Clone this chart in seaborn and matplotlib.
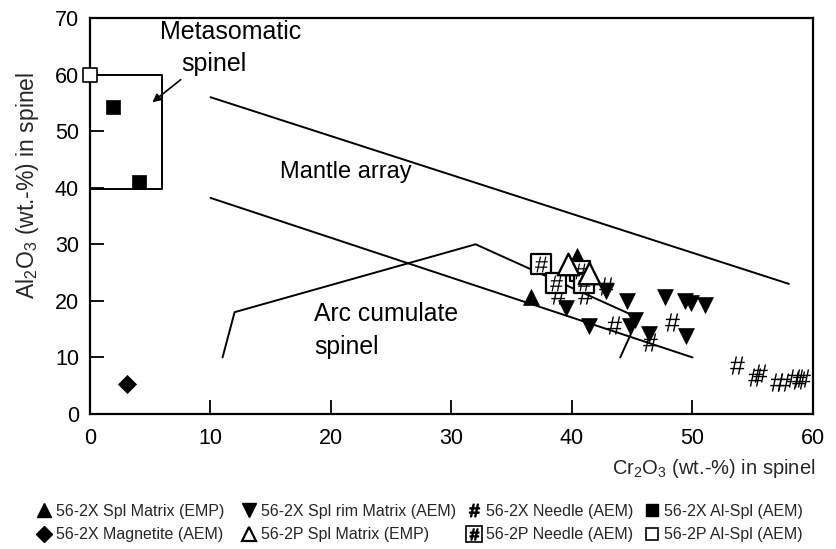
import numpy as np
import pandas as pd
import matplotlib
matplotlib.use("Agg")
import matplotlib.pyplot as plt
import seaborn as sns
from matplotlib.lines import Line2D
from matplotlib.legend_handler import HandlerTuple

# ---------------- data ----------------
spl_matrix_2x_x = [36.6, 40.4]
spl_matrix_2x_y = [20.7, 28.0]

spl_rim_2x_x = [39.5, 41.4, 42.8, 44.6, 45.2, 44.8, 46.4, 47.7, 49.4, 49.9, 51.0, 49.5]
spl_rim_2x_y = [18.7, 15.6, 21.8, 20.0, 16.6, 15.5, 14.1, 20.7, 20.0, 19.6, 19.2, 13.7]

needle_2x_x = [38.8, 41.1, 42.8, 43.5, 46.5, 48.3, 53.7, 55.2, 55.6, 57.0, 57.5, 58.4, 58.8, 59.2]
needle_2x_y = [21.0, 21.0, 22.6, 15.7, 12.8, 16.3, 8.7, 6.6, 7.2, 5.7, 5.7, 6.3, 6.0, 6.3]

alspl_2x_x = [1.9, 4.05]
alspl_2x_y = [54.3, 41.0]

magnetite_2x_x = [3.1]
magnetite_2x_y = [5.3]

spl_matrix_2p_x = [39.7, 41.4]
spl_matrix_2p_y = [26.5, 24.9]

needle_2p_x = [37.4, 38.7, 40.7, 41.0]
needle_2p_y = [26.5, 23.1, 25.2, 23.1]

alspl_2p_x = [0.0]
alspl_2p_y = [60.0]

mantle_upper_x = [10, 58]
mantle_upper_y = [56, 23]
mantle_lower_x = [10, 50]
mantle_lower_y = [38.2, 10]
arc_x = [11, 12, 32, 45.5, 44]
arc_y = [10, 18, 30, 17, 10]
meta_box_x = [0, 6, 6, 0]
meta_box_y = [60, 60, 39.7, 39.7]

x_ticks = [0, 10, 20, 30, 40, 50, 60]
y_ticks = [0, 10, 20, 30, 40, 50, 60, 70]

legend_labels = ["56-2X Spl Matrix (EMP)", "56-2X Magnetite (AEM)",
                 "56-2X Spl rim Matrix (AEM)", "56-2P Spl Matrix (EMP)",
                 "56-2X Needle (AEM)", "56-2P Needle (AEM)",
                 "56-2X Al-Spl (AEM)", "56-2P Al-Spl (AEM)"]

# ---------------- figure ----------------
sns.set_theme(style="white")
plt.rcParams['font.family'] = ['Liberation Sans', 'DejaVu Sans']
plt.rcParams['mathtext.default'] = 'regular'

fig = plt.figure(figsize=(8.37, 5.49), dpi=100)
ax = fig.add_axes([90/837, 1-414/549, (813-90)/837, (414-18)/549])

lk = dict(color='black', lw=1.4, zorder=2, sort=False, estimator=None,
          errorbar=None, ax=ax)
sns.lineplot(x=mantle_upper_x, y=mantle_upper_y, **lk)
sns.lineplot(x=mantle_lower_x, y=mantle_lower_y, **lk)
sns.lineplot(x=arc_x, y=arc_y, **lk)
sns.lineplot(x=meta_box_x, y=meta_box_y, **lk)

sk = dict(ax=ax, legend=False)
sns.scatterplot(x=spl_rim_2x_x, y=spl_rim_2x_y, marker='v', s=130, color='black',
                edgecolor='black', linewidth=0.5, zorder=3, **sk)
sns.scatterplot(x=needle_2x_x, y=needle_2x_y, marker='$\\#$', s=170, color='black',
                edgecolor='black', linewidth=0.0, zorder=4, **sk)
sns.scatterplot(x=spl_matrix_2x_x, y=spl_matrix_2x_y, marker='^', s=130, color='black',
                edgecolor='black', linewidth=0.5, zorder=3, **sk)
sns.scatterplot(x=needle_2p_x, y=needle_2p_y, marker='s', s=200, color='white',
                edgecolor='black', linewidth=1.6, zorder=5, **sk)
sns.scatterplot(x=needle_2p_x, y=needle_2p_y, marker='$\\#$', s=130, color='black',
                edgecolor='black', linewidth=0.0, zorder=6, **sk)
sns.scatterplot(x=spl_matrix_2p_x, y=spl_matrix_2p_y, marker='^', s=240, color='white',
                edgecolor='black', linewidth=1.7, zorder=7, **sk)
sns.scatterplot(x=alspl_2x_x, y=alspl_2x_y, marker='s', s=100, color='black',
                edgecolor='black', linewidth=0.5, zorder=5, **sk)
sns.scatterplot(x=magnetite_2x_x, y=magnetite_2x_y, marker='D', s=85, color='black',
                edgecolor='black', linewidth=0.5, zorder=5, **sk)
sns.scatterplot(x=alspl_2p_x, y=alspl_2p_y, marker='s', s=100, color='white',
                edgecolor='black', linewidth=1.2, zorder=8, clip_on=False, **sk)

ax.set_xlim(0, 60)
ax.set_ylim(0, 70)
ax.set_xticks(x_ticks)
ax.set_yticks(y_ticks)
ax.set_xticklabels([str(t) for t in x_ticks], fontsize=15.5)
ax.set_yticklabels([str(t) for t in y_ticks], fontsize=15.5)
ax.tick_params(axis='both', direction='in', length=10, width=1.3, colors='black',
               left=True, bottom=True, top=False, right=False)
ax.tick_params(axis='x', pad=10)
ax.tick_params(axis='y', pad=8)
for sp in ax.spines.values():
    sp.set_color('black')
    sp.set_linewidth(1.6)
ax.set_xlabel('')
ax.set_ylabel('')

# annotations
tk = dict(color='black', ha='left', va='center')
ax.text(5.8, 67.5, 'Metasomatic', fontsize=18, **tk)
ax.text(7.6, 61.9, 'spinel', fontsize=18, **tk)
ax.annotate('', xy=(5.0, 54.8), xytext=(7.7, 59.4),
            arrowprops=dict(arrowstyle='-|>', color='black', lw=1.2, mutation_scale=12))
ax.text(15.8, 42.7, 'Mantle array', fontsize=17, **tk)
ax.text(18.6, 17.6, 'Arc cumulate', fontsize=17.8, **tk)
ax.text(18.6, 11.9, 'spinel', fontsize=17.8, **tk)

fig.text(815/837, 1-468/549, 'Cr$_2$O$_3$ (wt.-%) in spinel', fontsize=14.5,
         ha='right', va='center')
fig.text(28/837, 1-185/549, 'Al$_2$O$_3$ (wt.-%) in spinel', fontsize=16.5,
         ha='center', va='center', rotation=90)

# legend (one small legend per column)
h_tri = Line2D([], [], marker='^', color='black', ls='', ms=10)
h_dia = Line2D([], [], marker='D', color='black', ls='', ms=8)
h_dn = Line2D([], [], marker='v', color='black', ls='', ms=10)
h_otri = Line2D([], [], marker='^', mfc='white', mec='black', mew=1.6, ls='', ms=10)
h_hash = Line2D([], [], marker='$\\#$', color='black', ls='', ms=9)
h_box = Line2D([], [], marker='s', mfc='white', mec='black', mew=1.2, ls='', ms=11)
h_bhash = Line2D([], [], marker='$\\#$', color='black', ls='', ms=8)
h_sq = Line2D([], [], marker='s', color='black', ls='', ms=9)
h_osq = Line2D([], [], marker='s', mfc='white', mec='black', mew=1.2, ls='', ms=9)
handles = [h_tri, h_dia, h_dn, h_otri, h_hash, (h_box, h_bhash), h_sq, h_osq]
col_left = [38, 243, 468, 646]
for i, xl in enumerate(col_left):
    fig.legend(handles[2*i:2*i+2], legend_labels[2*i:2*i+2], loc='center left',
               bbox_to_anchor=(xl/837, 1-523/549), frameon=False, fontsize=11.5,
               handlelength=0.8, handletextpad=0.35, labelspacing=0.55,
               borderpad=0.0, borderaxespad=0.0,
               handler_map={tuple: HandlerTuple(ndivide=1, pad=0)})

fig.savefig('out.png', dpi=100)
